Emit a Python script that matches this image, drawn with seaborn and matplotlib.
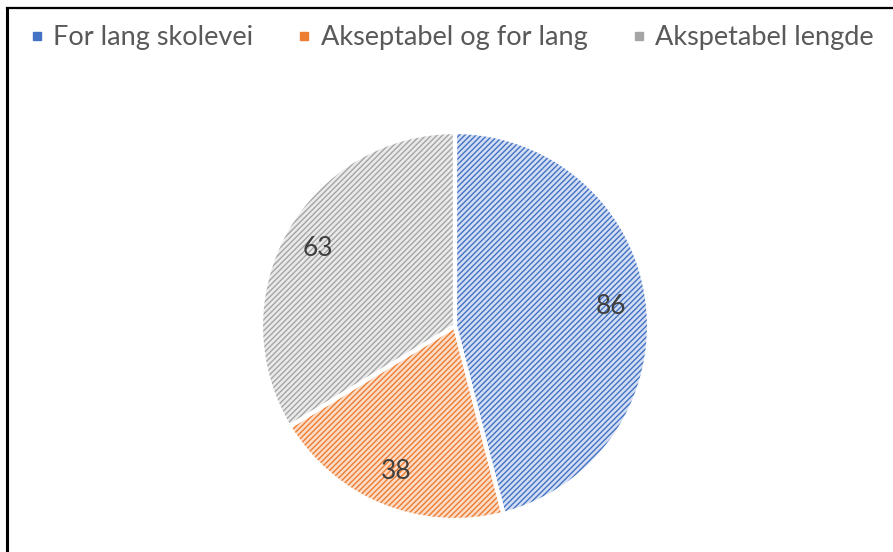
import matplotlib
matplotlib.use("Agg")
import matplotlib.pyplot as plt
from matplotlib.lines import Line2D
import seaborn as sns

# Survey answers on the length of the way to school
categories = ["For lang skolevei", "Akseptabel og for lang", "Akspetabel lengde"]
counts = [86, 38, 63]

line_colors = ["#4472C4", "#ED7D31", "#A5A5A5"]
fill_colors = ["#D3DEF3", "#FBDCC8", "#EAEAEA"]

sns.set_theme(style="white")
plt.rcParams["font.family"] = ["Lato", "DejaVu Sans"]
plt.rcParams["hatch.linewidth"] = 1.0

W, H = 893, 552
fig = plt.figure(figsize=(W / 100, H / 100), dpi=100)
fig.patch.set_facecolor("white")

# pie area: centre and radius in pixels
cx, cy, half = 455, 326, 200
ax = fig.add_axes([(cx - half) / W, (H - cy - half) / H, 2 * half / W, 2 * half / H])
ax.axis("off")

R = 194 / half

# hatched fills
wedges, _ = ax.pie(counts, startangle=90, counterclock=False, radius=R,
                   colors=fill_colors,
                   wedgeprops=dict(linewidth=0, hatch="//////"))
for w, c in zip(wedges, line_colors):
    w.set_edgecolor(c)
    w.set_linewidth(0)

# white separators and value labels
_, _, texts = ax.pie(counts, startangle=90, counterclock=False, radius=R,
                     colors=["none"] * 3,
                     autopct=lambda p: f"{round(p * sum(counts) / 100):d}",
                     pctdistance=0.81,
                     wedgeprops=dict(linewidth=3, edgecolor="white", fill=False),
                     textprops=dict(color="#404040", fontsize=19))

ax.set_xlim(-1, 1)
ax.set_ylim(-1, 1)
ax.set_aspect("equal")

# legend along the top
handles = [Line2D([0], [0], marker="s", linestyle="none", markersize=6,
                  markerfacecolor=c, markeredgecolor=c) for c in line_colors]
fig.legend(handles, categories, loc="upper left", bbox_to_anchor=(4 / W, 1 - 1 / H),
           ncol=3, frameon=False, fontsize=19.5, handlelength=0.6, handletextpad=0.3,
           columnspacing=1.6, labelcolor="#595959")

# frame lines on the left and top
fig.add_artist(Line2D([7 / W, 7 / W], [0, 1 - 8 / H], color="black", linewidth=2.2,
                      transform=fig.transFigure, solid_capstyle="projecting"))
fig.add_artist(Line2D([7 / W, 1], [1 - 8 / H, 1 - 8 / H], color="black", linewidth=1.6,
                      transform=fig.transFigure, solid_capstyle="projecting"))

fig.savefig("out.png", dpi=100, facecolor="white")
